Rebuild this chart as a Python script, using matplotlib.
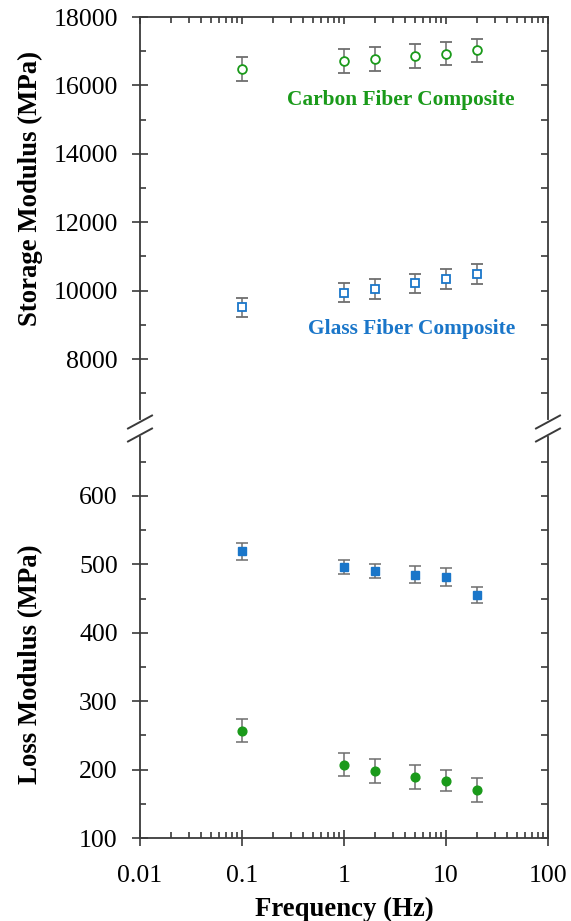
import matplotlib
matplotlib.use("Agg")
import matplotlib.pyplot as plt
from matplotlib.lines import Line2D
from matplotlib.ticker import LogLocator, FixedLocator, NullFormatter, FuncFormatter

plt.rcParams['font.family'] = ['Liberation Serif', 'DejaVu Serif']

freq = [0.1, 1, 2, 5, 10, 20]
carbon_storage = [16470, 16715, 16785, 16870, 16930, 17025]
carbon_storage_err = [350, 355, 350, 355, 345, 340]
glass_storage = [9510, 9940, 10045, 10210, 10345, 10485]
glass_storage_err = [290, 285, 290, 285, 290, 285]
glass_loss = [519, 496, 490, 485, 481, 455]
glass_loss_err = [12, 10, 10, 12, 13, 12]
carbon_loss = [257, 207, 198, 189, 184, 170]
carbon_loss_err = [17, 17, 17, 17, 16, 17]

green = '#1a9a1a'
blue = '#1a76c9'
errc = '#6e6e6e'
axc = '#3a3a3a'

W, H = 571, 921
fig = plt.figure(figsize=(W / 100, H / 100), dpi=100)
left, right, top, bot, mid = 140 / W, 548 / W, 1 - 17 / H, 1 - 838 / H, 1 - 427.5 / H
ax_t = fig.add_axes([left, mid, right - left, top - mid])
ax_b = fig.add_axes([left, bot, right - left, mid - bot], sharex=ax_t)

ebkw = dict(ls='none', ecolor=errc, elinewidth=1.1, capsize=4.5, capthick=1.1, ms=6.3)
ax_t.errorbar(freq, carbon_storage, yerr=carbon_storage_err, marker='o', mfc='white',
              mec=green, mew=1.3, **ebkw)
ax_t.errorbar(freq, glass_storage, yerr=glass_storage_err, marker='s', mfc='white',
              mec=blue, mew=1.3, **ebkw)
ax_b.errorbar(freq, glass_loss, yerr=glass_loss_err, marker='s', mfc=blue, mec=blue, **ebkw)
ax_b.errorbar(freq, carbon_loss, yerr=carbon_loss_err, marker='o', mfc=green, mec=green, **ebkw)

ax_t.text(0.919, 15573, 'Carbon Fiber Composite', color=green, fontsize=15.4, fontweight='bold',
          ha='right', va='center', transform=ax_t.get_yaxis_transform())
ax_t.text(0.919, 8877, 'Glass Fiber Composite', color=blue, fontsize=15.4, fontweight='bold',
          ha='right', va='center', transform=ax_t.get_yaxis_transform())

ax_t.set_xscale('log')
ax_t.set_xlim(0.01, 100)
ax_t.set_ylim(6000, 18000)
ax_b.set_ylim(100, 700)

for ax in (ax_t, ax_b):
    for s in ax.spines.values():
        s.set_color(axc)
        s.set_linewidth(1.3)
ax_t.spines['bottom'].set_visible(False)
ax_b.spines['top'].set_visible(False)

ax_t.set_yticks(range(8000, 18001, 2000))
ax_t.yaxis.set_minor_locator(FixedLocator(range(7000, 17001, 2000)))
ax_b.set_yticks(range(100, 601, 100))
ax_b.yaxis.set_minor_locator(FixedLocator(range(150, 651, 100)))

ax_b.xaxis.set_major_locator(FixedLocator([0.01, 0.1, 1, 10, 100]))
ax_b.xaxis.set_minor_locator(LogLocator(base=10, subs=range(2, 10), numticks=20))
ax_b.xaxis.set_major_formatter(FuncFormatter(lambda v, p: f'{v:g}'))
ax_b.xaxis.set_minor_formatter(NullFormatter())

for ax in (ax_t, ax_b):
    ax.tick_params(axis='y', which='major', direction='inout', length=11, width=1.2,
                   color=axc, labelsize=18.6, pad=10.5, right=False)
    ax.tick_params(axis='y', which='minor', direction='in', length=4.5, width=1.2,
                   color=axc, right=False)
    # right side ticks point inward only
    tw = ax.twinx()
    tw.set_ylim(ax.get_ylim())
    tw.set_yticks(ax.get_yticks())
    tw.yaxis.set_minor_locator(FixedLocator(ax.yaxis.get_minorticklocs()))
    tw.tick_params(axis='y', which='both', direction='in', length=5, width=1.2,
                   color=axc, labelright=False)
    tw.set_ylim(ax.get_ylim())
    for s in tw.spines.values():
        s.set_visible(False)

ax_t.tick_params(axis='x', which='both', direction='in', top=True, bottom=False,
                 labelbottom=False, color=axc, width=1.2)
ax_t.tick_params(axis='x', which='major', length=5)
ax_t.tick_params(axis='x', which='minor', length=4)
ax_b.tick_params(axis='x', which='major', direction='inout', length=11, width=1.2,
                 color=axc, labelsize=18.6, pad=14, top=False)
ax_b.tick_params(axis='x', which='minor', direction='in', length=4.5, width=1.2,
                 color=axc, top=False)

ax_t.set_ylabel('Storage Modulus (MPa)', fontsize=19.3, fontweight='bold')
ax_b.set_ylabel('Loss Modulus (MPa)', fontsize=19.3, fontweight='bold')
ax_b.set_xlabel('Frequency (Hz)', fontsize=19.3, fontweight='bold', labelpad=7)
ax_t.yaxis.set_label_coords(-0.238, 0.583)
ax_b.yaxis.set_label_coords(-0.238, 0.424)

# axis break marks
for xs in (140, 548):
    fig.add_artist(Line2D([xs / W, xs / W], [1 - 422.5 / H, 1 - 434.5 / H],
                          color='white', lw=3, transform=fig.transFigure))
    for yc in (422, 435):
        fig.add_artist(Line2D([(xs - 12) / W, (xs + 12) / W],
                              [1 - (yc + 6.5) / H, 1 - (yc - 6.5) / H],
                              color=axc, lw=1.4, transform=fig.transFigure))

fig.savefig('out.png', dpi=100)
